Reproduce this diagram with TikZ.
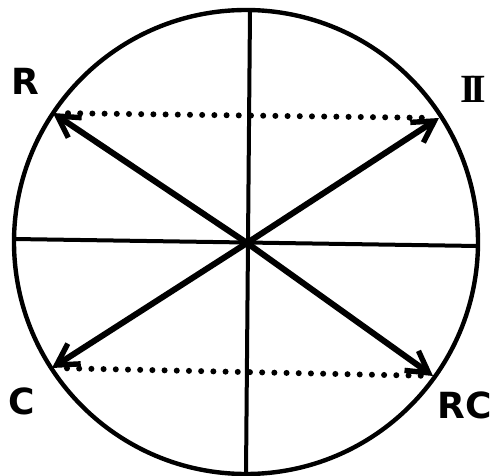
\documentclass[tikz,border=0pt]{standalone}
\usepackage{fontspec}
\setmainfont{DejaVu Sans}
\newfontfamily\romfont{Liberation Serif}
\usetikzlibrary{arrows.meta}
\begin{document}
\begin{tikzpicture}[x=1pt,y=-1pt,
  rim/.style={line width=4.4pt},
  axisline/.style={line width=4pt},
  ray/.style={line width=6pt,-{Straight Barb[length=21pt,width=24pt,line width=5.4pt]}},
  dotline/.style={line width=6pt,line cap=round,dash pattern=on 0pt off 12.2pt,shorten <=15pt,shorten >=12pt},
  lab/.style={font=\fontsize{36}{36}\bfseries\selectfont,inner sep=0pt,anchor=center}]
\useasboundingbox[fill=white] (0,0) rectangle (501,476);
\coordinate (O) at (247,243);
\coordinate (Oc) at (246,242);
\draw[rim] (Oc) circle (232pt);
% axes
\coordinate (top) at (250,10);
\coordinate (bot) at (246,474);
\coordinate (lft) at (14,239);
\coordinate (rgt) at (478,246);
\draw[axisline] (top) -- (bot);
\draw[axisline] (lft) -- (rgt);
% tips
\coordinate (tR) at (53,113);
\coordinate (tII) at (439,118);
\coordinate (tC) at (52,368);
\coordinate (tRC) at (433,376);
\draw[ray] (O) -- (tR);
\draw[ray] (O) -- (tII);
\draw[ray] (O) -- (tC);
\draw[ray] (O) -- (tRC);
% dotted links
\draw[dotline] (tR) -- (tII);
\draw[dotline] (tC) -- (tRC);
% labels
\node[lab] (lR) at (25,81) {R};
\node[lab,font=\fontsize{40}{40}\romfont\bfseries] (lII) at (473,89) {I\kern-5.5pt I};
\node[lab] (lC) at (22,401) {C};
\node[lab] (lRC) at (465,405) {RC};
\end{tikzpicture}
\end{document}
